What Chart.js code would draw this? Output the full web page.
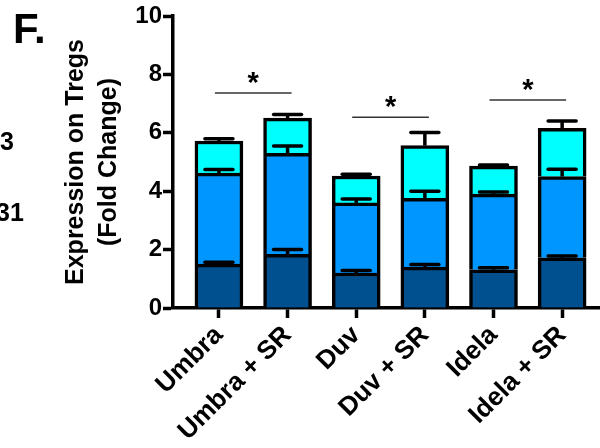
<!DOCTYPE html>
<html>
<head>
<meta charset="utf-8">
<script src="https://cdn.jsdelivr.net/npm/chart.js@4.4.1/dist/chart.umd.min.js"></script>
<style>
  html, body { margin: 0; padding: 0; background: #fff; }
</style>
</head>
<body>
<canvas id="fig" width="600" height="448"></canvas>
<script>
// groups on the x axis
const categories = ['Umbra', 'Umbra + SR', 'Duv', 'Duv + SR', 'Idela', 'Idela + SR'];
// stacked segment heights (fold change)
const darkValues = [1.50, 1.84, 1.20, 1.40, 1.31, 1.72];
const midValues = [3.12, 3.46, 2.40, 2.36, 2.59, 2.78];
const cyanValues = [1.10, 1.20, 0.92, 1.80, 0.96, 1.65];
// error bar sizes (SEM) on top of each segment
const darkErr = [0.07, 0.16, 0.08, 0.09, 0.07, 0.06];
const midErr = [0.12, 0.25, 0.13, 0.24, 0.07, 0.25];
const cyanErr = [0.08, 0.13, 0.06, 0.45, 0.04, 0.25];
// significance brackets
const sigFrom = [0, 2, 4];
const sigTo = [1, 3, 5];
const sigLevel = [7.36, 6.53, 7.12];
const sigLabel = ['*', '*', '*'];
const yTicks = [0, 2, 4, 6, 8, 10];

const FONT = '"Liberation Sans", Arial, sans-serif';

const toPoints = (vals) => vals.map((v, i) => ({ x: i, y: v }));

// error bars, significance lines and the panel text
const extras = {
  id: 'extras',
  afterDatasetsDraw(chart) {
    const ctx = chart.ctx;
    const xs = chart.scales.x;
    const ys = chart.scales.y;
    const segs = [darkValues, midValues, cyanValues];
    const errs = [darkErr, midErr, cyanErr];

    ctx.save();
    ctx.strokeStyle = '#000';
    ctx.lineWidth = 3.5;
    for (let j = 0; j < categories.length; j++) {
      let top = 0;
      for (let d = 0; d < segs.length; d++) {
        top += segs[d][j];
        const x = xs.getPixelForValue(j);
        const y0 = ys.getPixelForValue(top);
        const y1 = ys.getPixelForValue(top + errs[d][j]);
        ctx.lineCap = 'butt';
        ctx.beginPath();
        ctx.moveTo(x, y0);
        ctx.lineTo(x, y1);
        ctx.stroke();
        ctx.lineCap = 'round';
        ctx.beginPath();
        ctx.moveTo(x - 14, y1);
        ctx.lineTo(x + 14, y1);
        ctx.stroke();
      }
    }

    // significance lines with stars
    ctx.lineCap = 'butt';
    ctx.lineWidth = 1.5;
    ctx.strokeStyle = '#333';
    ctx.fillStyle = '#000';
    ctx.font = 'bold 29px ' + FONT;
    ctx.textAlign = 'center';
    ctx.textBaseline = 'alphabetic';
    for (let k = 0; k < sigFrom.length; k++) {
      const xa = xs.getPixelForValue(sigFrom[k]) - 4;
      const xb = xs.getPixelForValue(sigTo[k]) + 4;
      const y = ys.getPixelForValue(sigLevel[k]);
      ctx.beginPath();
      ctx.moveTo(xa, y);
      ctx.lineTo(xb, y);
      ctx.stroke();
      ctx.fillText(sigLabel[k], (xa + xb) / 2, y - 1);
    }

    // panel letter and cut-off neighbour labels
    ctx.textAlign = 'left';
    ctx.font = 'bold 42px ' + FONT;
    ctx.fillText('F.', 13, 43);
    ctx.font = 'bold 25px ' + FONT;
    ctx.fillText('3', 0, 150);
    ctx.fillText('31', -4, 221);
    ctx.restore();
  }
};

const barStyle = { borderColor: '#000', borderWidth: 3.5, barThickness: 48, stack: 's' };

new Chart(document.getElementById('fig'), {
  type: 'bar',
  data: {
    datasets: [
      { ...barStyle, label: 'seg1', data: toPoints(darkValues), backgroundColor: '#00508f' },
      { ...barStyle, label: 'seg2', data: toPoints(midValues), backgroundColor: '#0096ff' },
      { ...barStyle, label: 'seg3', data: toPoints(cyanValues), backgroundColor: '#00ffff' }
    ]
  },
  options: {
    responsive: false,
    animation: false,
    layout: { padding: { top: 16, right: 1, left: 0, bottom: 0 } },
    plugins: { legend: { display: false }, tooltip: { enabled: false } },
    scales: {
      x: {
        type: 'linear',
        stacked: true,
        offset: false,
        min: -0.669,
        max: 5.537,
        afterBuildTicks: (s) => { s.ticks = categories.map((c, i) => ({ value: i })); },
        afterFit: (s) => { s.height = 140; },
        grid: { offset: false, drawOnChartArea: false, tickLength: 10, tickWidth: 3.5, tickColor: '#000' },
        border: { color: '#000', width: 3.5 },
        ticks: {
          autoSkip: false,
          maxRotation: 45,
          minRotation: 45,
          padding: 2,
          color: '#000',
          font: { family: FONT, size: 26, weight: 'bold' },
          callback: (v) => categories[v]
        }
      },
      y: {
        stacked: true,
        min: 0,
        max: 10,
        afterBuildTicks: (s) => { s.ticks = yTicks.map((v) => ({ value: v })); },
        afterFit: (s) => { s.width = 173; },
        grid: { drawOnChartArea: false, tickLength: 10, tickWidth: 3.5, tickColor: '#000' },
        border: { color: '#000', width: 3.5 },
        ticks: {
          padding: 1,
          color: '#000',
          font: { family: FONT, size: 24, weight: 'bold' }
        },
        title: {
          display: true,
          text: ['Expression on Tregs', '(Fold Change)'],
          color: '#000',
          font: { family: FONT, size: 25, weight: 'bold', lineHeight: 1.3 },
          padding: { top: 60, bottom: 0 }
        }
      }
    }
  },
  plugins: [extras]
});
</script>
</body>
</html>
